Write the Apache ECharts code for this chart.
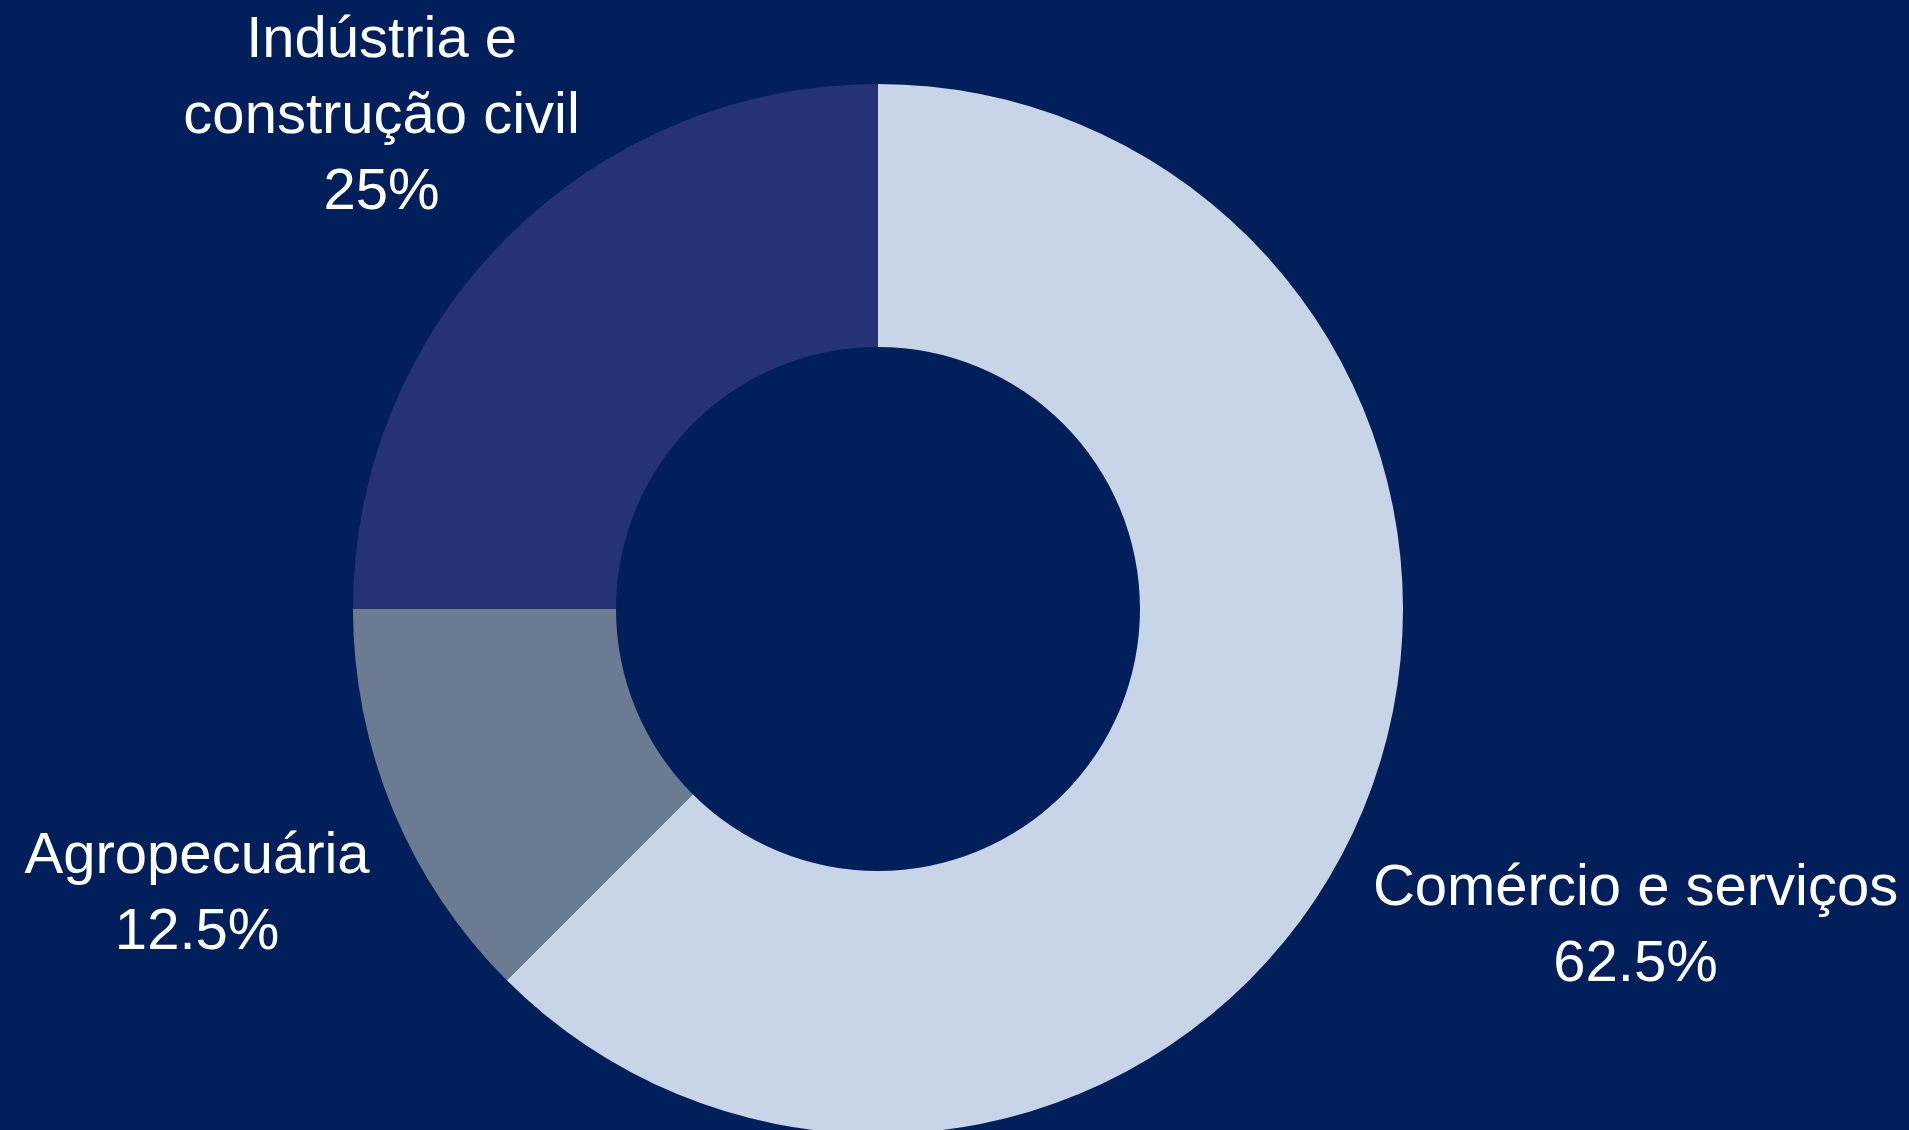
<!DOCTYPE html>
<html>
<head>
<meta charset="utf-8">
<script src="https://cdn.jsdelivr.net/npm/echarts@6/dist/echarts.min.js"></script>
<style>
  html, body { margin: 0; padding: 0; background: #001F5B; }
  #chart { width: 1909px; height: 1130px; }
</style>
</head>
<body>
<div id="chart"></div>
<script>
const categories = ['Comércio e serviços', 'Agropecuária', 'Indústria e\nconstrução civil'];
const shares = [62.5, 12.5, 25];
const colors = ['#C8D5E8', '#6B7C92', '#253276'];
const labelReach = [295, 212, 177];

const chart = echarts.init(document.getElementById('chart'), null, { renderer: 'canvas' });

const data = categories.map((name, i) => ({
  name: name,
  value: shares[i],
  itemStyle: { color: colors[i] },
  labelLine: { show: false, length: labelReach[i], length2: 0 }
}));

chart.setOption({
  backgroundColor: '#001F5B',
  animation: false,
  series: [{
    type: 'pie',
    center: [878, 609],
    radius: [262, 525],
    startAngle: 90,
    clockwise: true,
    avoidLabelOverlap: false,
    itemStyle: { borderWidth: 0 },
    emphasis: { disabled: true },
    label: {
      show: true,
      position: 'outside',
      distanceToLabelLine: 0,
      color: '#FFFFFF',
      fontFamily: '"Liberation Sans", Arial, Helvetica, sans-serif',
      fontSize: 58,
      lineHeight: 76,
      align: 'center',
      formatter: p => p.name + '\n' + p.value + '%'
    },
    labelLine: { show: false },
    labelLayout: { align: 'center', verticalAlign: 'middle', dy: 4 },
    data: data
  }]
});
</script>
</body>
</html>
